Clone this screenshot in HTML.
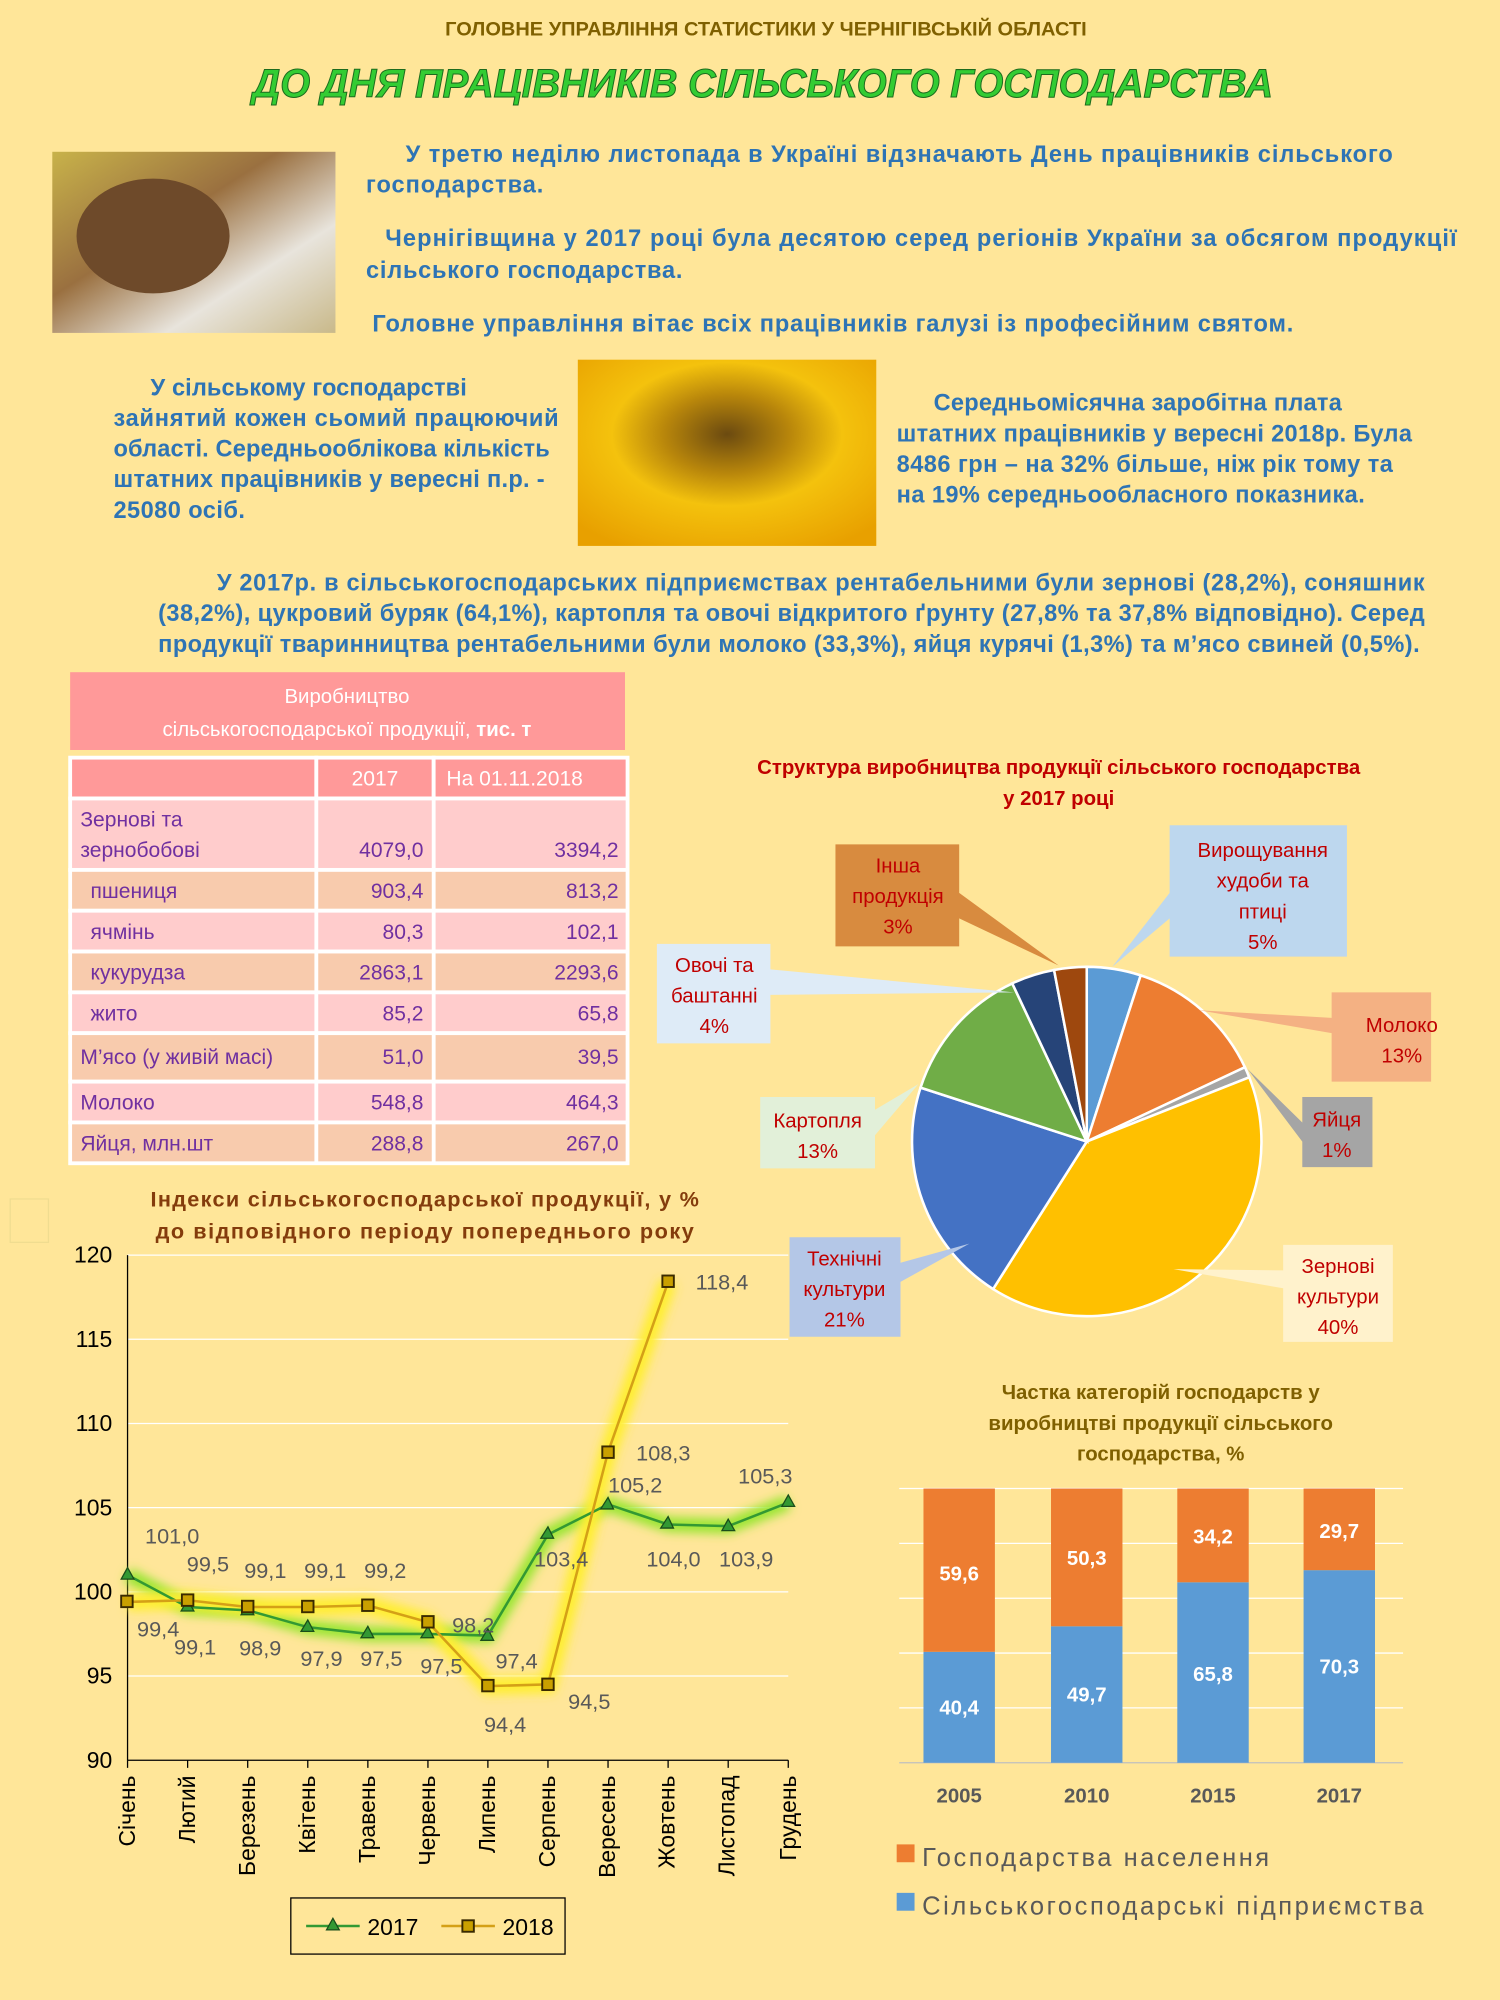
<!DOCTYPE html>
<html><head><meta charset="utf-8"><style>
html,body{margin:0;padding:0;background:#FFE699;}
svg{display:block;}
text{font-family:"Liberation Sans","DejaVu Sans",sans-serif;}
</style></head><body>
<svg width="1500" height="2000" viewBox="0 0 1176 1568" xmlns="http://www.w3.org/2000/svg">
<defs>
<filter id="glow" x="-20%" y="-20%" width="140%" height="140%"><feGaussianBlur stdDeviation="4"/></filter>
<radialGradient id="sun" cx="0.5" cy="0.4" r="0.7"><stop offset="0" stop-color="#6b4a10"/><stop offset="0.3" stop-color="#b8860b"/><stop offset="0.55" stop-color="#f4c20d"/><stop offset="1" stop-color="#e8a000"/></radialGradient>
<linearGradient id="bread" x1="0" y1="0" x2="1" y2="1"><stop offset="0" stop-color="#c8b24a"/><stop offset="0.4" stop-color="#9a7040"/><stop offset="0.7" stop-color="#e8e4dc"/><stop offset="1" stop-color="#c9b98a"/></linearGradient>
</defs>
<rect width="1176" height="1568" fill="#FFE699"/>
<text x="349" y="28" textLength="503" lengthAdjust="spacingAndGlyphs" font-size="15" font-weight="bold" fill="#7F6000">ГОЛОВНЕ УПРАВЛІННЯ СТАТИСТИКИ У ЧЕРНІГІВСЬКІЙ ОБЛАСТІ</text>
<text x="198" y="76" textLength="800" lengthAdjust="spacingAndGlyphs" font-size="31" font-weight="bold" font-style="italic" fill="#33CC33" stroke="#1d6b1d" stroke-width="0.8">ДО ДНЯ ПРАЦІВНИКІВ СІЛЬСЬКОГО ГОСПОДАРСТВА</text>
<rect x="41" y="119" width="222" height="142" fill="url(#bread)"/>
<ellipse cx="120" cy="185" rx="60" ry="45" fill="#6e4a2a"/>
<g font-size="18.5" font-weight="bold" fill="#2E74B5">
<text x="318" y="127" textLength="774">У третю неділю листопада в Україні відзначають День працівників сільського</text>
<text x="287" y="151" textLength="139">господарства.</text>
<text x="302" y="193" textLength="840">Чернігівщина у 2017 році була десятою серед регіонів України за обсягом продукції</text>
<text x="287" y="218" textLength="248">сільського господарства.</text>
<text x="292" y="260" textLength="722">Головне управління вітає всіх працівників галузі із професійним святом.</text>
<text x="118" y="310" textLength="248">У сільському господарстві</text>
<text x="89" y="334" textLength="349">зайнятий кожен сьомий працюючий</text>
<text x="89" y="358" textLength="342">області. Середньооблікова кількість</text>
<text x="89" y="382" textLength="338">штатних працівників у вересні п.р. -</text>
<text x="89" y="406" textLength="103">25080 осіб.</text>
<text x="732" y="322" textLength="320">Середньомісячна заробітна плата</text>
<text x="703" y="346" textLength="404">штатних працівників у вересні 2018р. Була</text>
<text x="703" y="370" textLength="389">8486 грн – на 32% більше, ніж рік тому та</text>
<text x="703" y="394" textLength="367">на 19% середньообласного показника.</text>
<text x="170" y="463" textLength="947">У 2017р. в сільськогосподарських підприємствах рентабельними були зернові (28,2%), соняшник</text>
<text x="124" y="487" textLength="993">(38,2%), цукровий буряк (64,1%), картопля та овочі відкритого ґрунту (27,8% та 37,8% відповідно). Серед</text>
<text x="124" y="511" textLength="989">продукції тваринництва рентабельними були молоко (33,3%), яйця курячі (1,3%) та м’ясо свиней (0,5%).</text>
</g>
<rect x="453" y="282" width="234" height="146" fill="url(#sun)"/>
<!-- table -->
<rect x="55" y="527" width="435" height="61" fill="#FF9999"/>
<text x="272" y="551" text-anchor="middle" font-size="16" fill="#fff">Виробництво</text>
<text x="272" y="577" text-anchor="middle" font-size="16" fill="#fff">сільськогосподарської продукції, <tspan font-weight="bold">тис. т</tspan></text>
<g stroke="#fff" stroke-width="3">
<rect x="55" y="594" width="193" height="32" fill="#FF9999"/><rect x="248" y="594" width="92" height="32" fill="#FF9999"/><rect x="340" y="594" width="152" height="32" fill="#FF9999"/>
<rect x="55" y="626" width="437" height="56" fill="#FFCCCC"/>
<rect x="55" y="682" width="437" height="32" fill="#F8CBAD"/>
<rect x="55" y="714" width="437" height="32" fill="#FFCCCC"/>
<rect x="55" y="746" width="437" height="32" fill="#F8CBAD"/>
<rect x="55" y="778" width="437" height="32" fill="#FFCCCC"/>
<rect x="55" y="810" width="437" height="38" fill="#F8CBAD"/>
<rect x="55" y="848" width="437" height="32" fill="#FFCCCC"/>
<rect x="55" y="880" width="437" height="32" fill="#F8CBAD"/>
<line x1="248" y1="626" x2="248" y2="912"/><line x1="340" y1="626" x2="340" y2="912"/>
</g>
<g font-size="16.5" fill="#fff"><text x="294" y="616" text-anchor="middle">2017</text><text x="350" y="616">На 01.11.2018</text></g>
<g font-size="16.5" fill="#7030A0">
<text x="63" y="648">Зернові та</text><text x="63" y="672">зернобобові</text>
<text x="71" y="704">пшениця</text><text x="71" y="736">ячмінь</text><text x="71" y="768">кукурудза</text><text x="71" y="800">жито</text>
<text x="63" y="834">М’ясо (у живій масі)</text><text x="63" y="870">Молоко</text><text x="63" y="902">Яйця, млн.шт</text>
</g>
<g font-size="16.5" fill="#7030A0" text-anchor="end">
<text x="332" y="672">4079,0</text><text x="485" y="672">3394,2</text>
<text x="332" y="704">903,4</text><text x="485" y="704">813,2</text>
<text x="332" y="736">80,3</text><text x="485" y="736">102,1</text>
<text x="332" y="768">2863,1</text><text x="485" y="768">2293,6</text>
<text x="332" y="800">85,2</text><text x="485" y="800">65,8</text>
<text x="332" y="834">51,0</text><text x="485" y="834">39,5</text>
<text x="332" y="870">548,8</text><text x="485" y="870">464,3</text>
<text x="332" y="902">288,8</text><text x="485" y="902">267,0</text>
</g>
<!-- pie -->
<g font-size="16" font-weight="bold" fill="#C00000" text-anchor="middle">
<text x="830" y="607">Структура виробництва продукції сільського господарства</text>
<text x="830" y="631">у 2017 році</text></g>
<g stroke="#fff" stroke-width="2">
<path d="M852 895 L852 758 A137 137 0 0 1 894.3 764.7Z" fill="#5B9BD5"/>
<path d="M852 895 L894.3 764.7 A137 137 0 0 1 976 836.7Z" fill="#ED7D31"/>
<path d="M852 895 L976 836.7 A137 137 0 0 1 979.4 844.6Z" fill="#A5A5A5"/>
<path d="M852 895 L979.4 844.6 A137 137 0 0 1 778.6 1010.6Z" fill="#FFC000"/>
<path d="M852 895 L778.6 1010.6 A137 137 0 0 1 721.7 852.7Z" fill="#4472C4"/>
<path d="M852 895 L721.7 852.7 A137 137 0 0 1 793.6 771Z" fill="#70AD47"/>
<path d="M852 895 L793.6 771 A137 137 0 0 1 826.4 760.5Z" fill="#264478"/>
<path d="M852 895 L826.4 760.5 A137 137 0 0 1 852 758Z" fill="#9E480E"/>
</g>
<g font-size="16" fill="#C00000" text-anchor="middle">
<polygon points="917,647 1056,647 1056,750 917,750 917,700 872,758 917,720" fill="#BDD7EE"/>
<text x="990" y="672">Вирощування</text><text x="990" y="696">худоби та</text><text x="990" y="720">птиці</text><text x="990" y="744">5%</text>
<polygon points="1044,778 1122,778 1122,848 1044,848 1044,810 940,792 1044,798" fill="#F4B183"/>
<text x="1099" y="809">Молоко</text><text x="1099" y="833">13%</text>
<polygon points="1021,860 1076,860 1076,915 1021,915 1021,895 978,838 1021,880" fill="#A5A5A5"/>
<text x="1048" y="883">Яйця</text><text x="1048" y="907">1%</text>
<polygon points="1006,976 1092,976 1092,1052 1006,1052 1006,1010 920,995 1006,996" fill="#FFF2CC"/>
<text x="1049" y="998">Зернові</text><text x="1049" y="1022">культури</text><text x="1049" y="1046">40%</text>
<polygon points="619,970 706,970 706,990 760,975 706,1005 706,1048 619,1048" fill="#B4C7E7"/>
<text x="662" y="992">Технічні</text><text x="662" y="1016">культури</text><text x="662" y="1040">21%</text>
<polygon points="596,860 686,860 686,870 720,850 686,890 686,916 596,916" fill="#E2F0D9"/>
<text x="641" y="884">Картопля</text><text x="641" y="908">13%</text>
<polygon points="515,740 604,740 604,760 795,778 604,780 604,818 515,818" fill="#DEEBF7"/>
<text x="560" y="762">Овочі та</text><text x="560" y="786">баштанні</text><text x="560" y="810">4%</text>
<polygon points="655,662 752,662 752,700 830,757 752,720 752,742 655,742" fill="#D88B3F"/>
<text x="704" y="684">Інша</text><text x="704" y="708">продукція</text><text x="704" y="732">3%</text>
</g>
<!-- line chart -->
<g font-size="17" font-weight="bold" fill="#843C0C" text-anchor="middle">
<text x="333" y="946" textLength="430">Індекси сільськогосподарської продукції, у %</text>
<text x="333" y="971" textLength="422">до відповідного періоду попереднього року</text></g>
<rect x="8" y="940" width="30" height="34" fill="none" stroke="#f0dc90"/>
<g stroke="#fff" stroke-width="1">
<line x1="100" y1="1314" x2="618" y2="1314"/><line x1="100" y1="1248" x2="618" y2="1248"/><line x1="100" y1="1182" x2="618" y2="1182"/><line x1="100" y1="1116" x2="618" y2="1116"/><line x1="100" y1="1050" x2="618" y2="1050"/><line x1="100" y1="984" x2="618" y2="984"/></g>
<line x1="100" y1="984" x2="100" y2="1380" stroke="#000"/>
<line x1="100" y1="1380" x2="618" y2="1380" stroke="#000"/>
<g stroke="#000">
<line x1="100" y1="1380" x2="100" y2="1386"/><line x1="147.1" y1="1380" x2="147.1" y2="1386"/><line x1="194.2" y1="1380" x2="194.2" y2="1386"/><line x1="241.3" y1="1380" x2="241.3" y2="1386"/><line x1="288.4" y1="1380" x2="288.4" y2="1386"/><line x1="335.5" y1="1380" x2="335.5" y2="1386"/><line x1="382.5" y1="1380" x2="382.5" y2="1386"/><line x1="429.6" y1="1380" x2="429.6" y2="1386"/><line x1="476.7" y1="1380" x2="476.7" y2="1386"/><line x1="523.8" y1="1380" x2="523.8" y2="1386"/><line x1="570.9" y1="1380" x2="570.9" y2="1386"/><line x1="618" y1="1380" x2="618" y2="1386"/></g>
<g font-size="18" text-anchor="end" fill="#000">
<text x="88" y="1386">90</text><text x="88" y="1320">95</text><text x="88" y="1254">100</text><text x="88" y="1188">105</text><text x="88" y="1122">110</text><text x="88" y="1056">115</text><text x="88" y="990">120</text></g>
<g font-size="18" text-anchor="end" fill="#000">
<text transform="translate(106,1392) rotate(-90)">Січень</text><text transform="translate(153,1392) rotate(-90)">Лютий</text><text transform="translate(200,1392) rotate(-90)">Березень</text><text transform="translate(247,1392) rotate(-90)">Квітень</text><text transform="translate(294,1392) rotate(-90)">Травень</text><text transform="translate(341,1392) rotate(-90)">Червень</text><text transform="translate(388,1392) rotate(-90)">Липень</text><text transform="translate(435,1392) rotate(-90)">Серпень</text><text transform="translate(482,1392) rotate(-90)">Вересень</text><text transform="translate(529,1392) rotate(-90)">Жовтень</text><text transform="translate(576,1392) rotate(-90)">Листопад</text><text transform="translate(624,1392) rotate(-90)">Грудень</text></g>
<polyline filter="url(#glow)" fill="none" stroke="#99E633" stroke-width="12" points="100,1234.8 147.1,1259.9 194.2,1262.5 241.3,1275.7 288.4,1281 335.5,1281 382.5,1282.3 429.6,1203.1 476.7,1179.4 523.8,1195.2 570.9,1196.5 618,1178"/>
<polyline filter="url(#glow)" fill="none" stroke="#FFEE33" stroke-width="14" points="100,1255.9 147.1,1254.6 194.2,1259.9 241.3,1259.9 288.4,1258.6 335.5,1271.8 382.5,1321.9 429.6,1320.6 476.7,1138.4 523.8,1005.1"/>
<polyline fill="none" stroke="#339933" stroke-width="2" points="100,1234.8 147.1,1259.9 194.2,1262.5 241.3,1275.7 288.4,1281 335.5,1281 382.5,1282.3 429.6,1203.1 476.7,1179.4 523.8,1195.2 570.9,1196.5 618,1178"/>
<polyline fill="none" stroke="#D4A017" stroke-width="2" points="100,1255.9 147.1,1254.6 194.2,1259.9 241.3,1259.9 288.4,1258.6 335.5,1271.8 382.5,1321.9 429.6,1320.6 476.7,1138.4 523.8,1005.1"/>
<g fill="#339933" stroke="#1a4d1a" stroke-width="1">
<polygon points="100,1229 95,1238 105,1238"/><polygon points="147.1,1254 142,1263 152,1263"/><polygon points="194.2,1257 189,1266 199,1266"/><polygon points="241.3,1270 236,1279 246,1279"/><polygon points="288.4,1275 283,1284 293,1284"/><polygon points="335.5,1275 330,1284 340,1284"/><polygon points="382.5,1277 377,1286 387,1286"/><polygon points="429.6,1197 424,1206 434,1206"/><polygon points="476.7,1174 471,1183 481,1183"/><polygon points="523.8,1189 518,1198 528,1198"/><polygon points="570.9,1191 566,1200 576,1200"/><polygon points="618,1172 613,1181 623,1181"/></g>
<g fill="#C9A000" stroke="#3a2a00" stroke-width="1.5">
<rect x="95" y="1251" width="9" height="9"/><rect x="142.6" y="1250" width="9" height="9"/><rect x="189.7" y="1255" width="9" height="9"/><rect x="236.8" y="1255" width="9" height="9"/><rect x="283.9" y="1254" width="9" height="9"/><rect x="331" y="1267" width="9" height="9"/><rect x="378" y="1317" width="9" height="9"/><rect x="425.1" y="1316" width="9" height="9"/><rect x="472.2" y="1134" width="9" height="9"/><rect x="519.3" y="1000" width="9" height="9"/></g>
<g font-size="17" fill="#595959" text-anchor="middle">
<text x="135" y="1210">101,0</text><text x="124" y="1283">99,4</text><text x="153" y="1297">99,1</text><text x="163" y="1232">99,5</text><text x="204" y="1298">98,9</text><text x="208" y="1237">99,1</text><text x="252" y="1306">97,9</text><text x="255" y="1237">99,1</text><text x="299" y="1306">97,5</text><text x="302" y="1237">99,2</text><text x="346" y="1312">97,5</text><text x="371" y="1280">98,2</text><text x="405" y="1308">97,4</text><text x="396" y="1358">94,4</text><text x="440" y="1228">103,4</text><text x="462" y="1340">94,5</text><text x="520" y="1145">108,3</text><text x="498" y="1170">105,2</text><text x="528" y="1228">104,0</text><text x="585" y="1228">103,9</text><text x="600" y="1163">105,3</text><text x="566" y="1011">118,4</text></g>
<rect x="228" y="1488" width="215" height="44" fill="none" stroke="#000"/>
<line x1="240" y1="1510" x2="282" y2="1510" stroke="#339933" stroke-width="2"/><polygon points="261,1504 256,1513 266,1513" fill="#339933" stroke="#1a4d1a"/>
<text x="288" y="1517" font-size="18">2017</text>
<line x1="346" y1="1510" x2="388" y2="1510" stroke="#D4A017" stroke-width="2"/><rect x="362.5" y="1505.5" width="9" height="9" fill="#C9A000" stroke="#3a2a00" stroke-width="1.5"/>
<text x="394" y="1517" font-size="18">2018</text>
<!-- bar chart -->
<g font-size="16" font-weight="bold" fill="#7F6000" text-anchor="middle">
<text x="910" y="1097">Частка категорій господарств у</text><text x="910" y="1121">виробництві продукції сільського</text><text x="910" y="1145">господарства, %</text></g>
<g stroke="#fff" stroke-width="1"><line x1="705" y1="1167" x2="1100" y2="1167"/><line x1="705" y1="1210" x2="1100" y2="1210"/><line x1="705" y1="1253" x2="1100" y2="1253"/><line x1="705" y1="1296" x2="1100" y2="1296"/><line x1="705" y1="1339" x2="1100" y2="1339"/></g>
<line x1="705" y1="1382" x2="1100" y2="1382" stroke="#BFBFBF"/>
<rect x="724" y="1295" width="56" height="87" fill="#5B9BD5"/><rect x="724" y="1167" width="56" height="128" fill="#ED7D31"/>
<rect x="824" y="1275" width="56" height="107" fill="#5B9BD5"/><rect x="824" y="1167" width="56" height="108" fill="#ED7D31"/>
<rect x="923" y="1240.5" width="56" height="141.5" fill="#5B9BD5"/><rect x="923" y="1167" width="56" height="73.5" fill="#ED7D31"/>
<rect x="1022" y="1231" width="56" height="151" fill="#5B9BD5"/><rect x="1022" y="1167" width="56" height="64" fill="#ED7D31"/>
<g font-size="16" font-weight="bold" fill="#fff" text-anchor="middle">
<text x="752" y="1344">40,4</text><text x="752" y="1239">59,6</text>
<text x="852" y="1334">49,7</text><text x="852" y="1227">50,3</text>
<text x="951" y="1318">65,8</text><text x="951" y="1210">34,2</text>
<text x="1050" y="1312">70,3</text><text x="1050" y="1206">29,7</text></g>
<g font-size="16" font-weight="bold" fill="#595959" text-anchor="middle">
<text x="752" y="1413">2005</text><text x="852" y="1413">2010</text><text x="951" y="1413">2015</text><text x="1050" y="1413">2017</text></g>
<rect x="703" y="1446" width="14" height="14" fill="#ED7D31"/><text x="723" y="1463" font-size="20" fill="#595959" textLength="272">Господарства населення</text>
<rect x="703" y="1484" width="14" height="14" fill="#5B9BD5"/><text x="723" y="1501" font-size="20" fill="#595959" textLength="393">Сільськогосподарські підприємства</text>
</svg>
</body></html>
